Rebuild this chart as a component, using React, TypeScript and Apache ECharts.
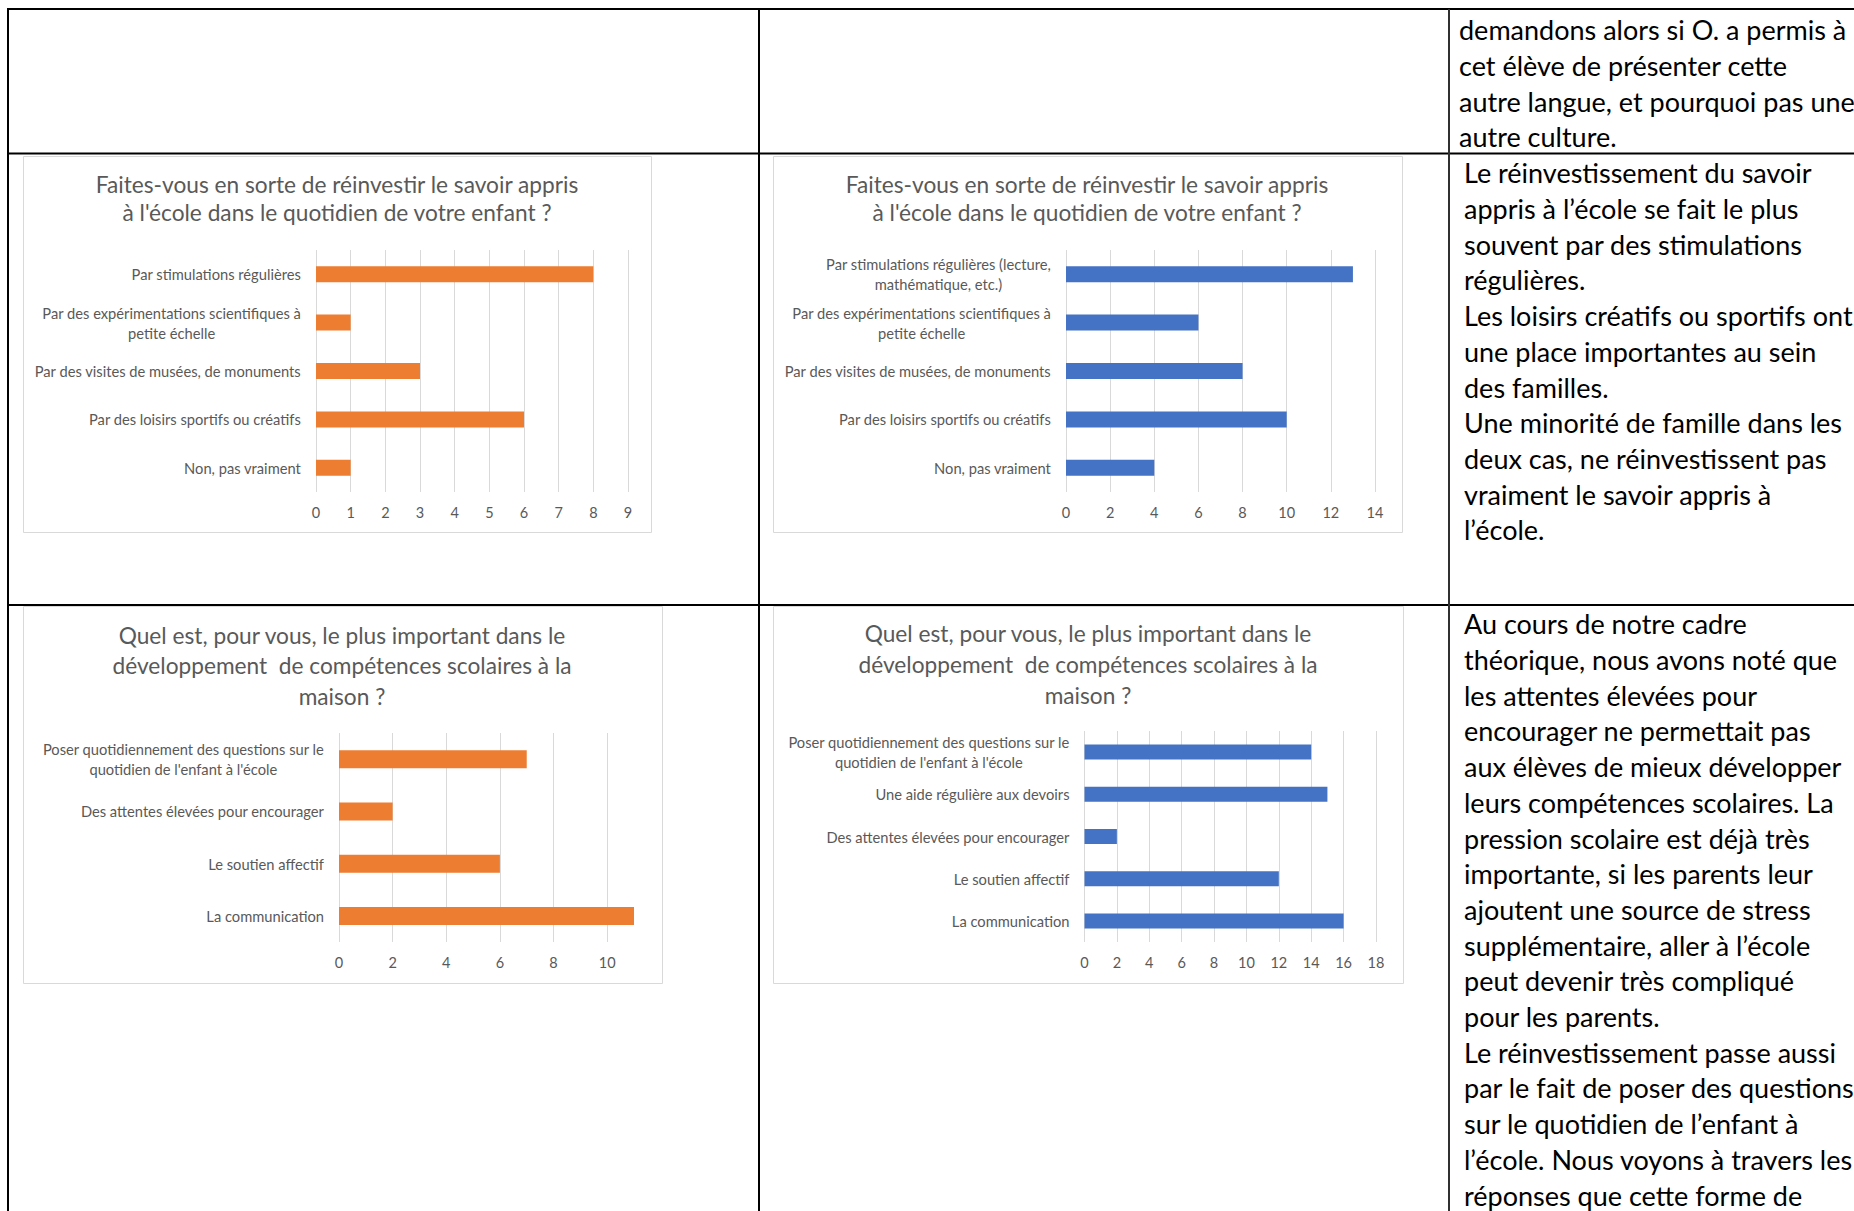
import React, { useEffect, useRef } from 'react';
import * as echarts from 'echarts';

const W = 1854;
const H = 1211;

// ---- data ----
const q1CategoriesA = [
  'Par stimulations régulières',
  'Par des expérimentations scientifiques à\npetite échelle',
  'Par des visites de musées, de monuments',
  'Par des loisirs sportifs ou créatifs',
  'Non, pas vraiment',
];
const q1ValuesA = [8, 1, 3, 6, 1];

const q1CategoriesB = [
  'Par stimulations régulières (lecture,\nmathématique, etc.)',
  'Par des expérimentations scientifiques à\npetite échelle',
  'Par des visites de musées, de monuments',
  'Par des loisirs sportifs ou créatifs',
  'Non, pas vraiment',
];
const q1ValuesB = [13, 6, 8, 10, 4];

const q2CategoriesA = [
  "Poser quotidiennement des questions sur le\nquotidien de l'enfant à l'école",
  'Des attentes élevées pour encourager',
  'Le soutien affectif',
  'La communication',
];
const q2ValuesA = [7, 2, 6, 11];

const q2CategoriesB = [
  "Poser quotidiennement des questions sur le\nquotidien de l'enfant à l'école",
  'Une aide régulière aux devoirs',
  'Des attentes élevées pour encourager',
  'Le soutien affectif',
  'La communication',
];
const q2ValuesB = [14, 15, 2, 12, 16];

const title1 = "Faites-vous en sorte de réinvestir le savoir appris\nà l'école dans le quotidien de votre enfant ?";
const title2 = 'Quel est, pour vous, le plus important dans le\ndéveloppement  de compétences scolaires à la\nmaison ?';

const textRow1 = [
  'demandons alors si O. a permis à',
  'cet élève de présenter cette',
  'autre langue, et pourquoi pas une',
  'autre culture.',
];
const textRow2 = [
  'Le réinvestissement du savoir',
  'appris à l’école se fait le plus',
  'souvent par des stimulations',
  'régulières.',
  'Les loisirs créatifs ou sportifs ont',
  'une place importantes au sein',
  'des familles.',
  'Une minorité de famille dans les',
  'deux cas, ne réinvestissent pas',
  'vraiment le savoir appris à',
  'l’école.',
];
const textRow3 = [
  'Au cours de notre cadre',
  'théorique, nous avons noté que',
  'les attentes élevées pour',
  'encourager ne permettait pas',
  'aux élèves de mieux développer',
  'leurs compétences scolaires. La',
  'pression scolaire est déjà très',
  'importante, si les parents leur',
  'ajoutent une source de stress',
  'supplémentaire, aller à l’école',
  'peut devenir très compliqué',
  'pour les parents.',
  'Le réinvestissement passe aussi',
  'par le fait de poser des questions',
  'sur le quotidien de l’enfant à',
  'l’école. Nous voyons à travers les',
  'réponses que cette forme de',
];

const ORANGE = '#ED7D31';
const BLUE = '#4472C4';
const GRAY_TEXT = '#595959';
const GRID_LINE = '#D9D9D9';
const FONT = 'Lato, "Open Sans", sans-serif';

const panels = [
  {
    cats: q1CategoriesA, vals: q1ValuesA, color: ORANGE, title: title1,
    box: [23, 156, 628, 376], grid: { left: 316, right: W - 628, top: 250, bottom: H - 492 },
    max: 9, interval: 1, barWidth: 16, titleX: 337, titleTop: 170.5, titleLH: 28, hideMax: false,
  },
  {
    cats: q1CategoriesB, vals: q1ValuesB, color: BLUE, title: title1,
    box: [773, 156, 629, 376], grid: { left: 1066, right: W - 1375, top: 250, bottom: H - 492 },
    max: 14, interval: 2, barWidth: 16, titleX: 1087, titleTop: 170.5, titleLH: 28, hideMax: false,
  },
  {
    cats: q2CategoriesA, vals: q2ValuesA, color: ORANGE, title: title2,
    box: [23, 606, 639, 377], grid: { left: 339, right: W - 634, top: 733, bottom: H - 942 },
    max: 11, interval: 2, barWidth: 18, titleX: 342, titleTop: 620, titleLH: 30.5, hideMax: true,
  },
  {
    cats: q2CategoriesB, vals: q2ValuesB, color: BLUE, title: title2,
    box: [773, 606, 630, 377], grid: { left: 1084.5, right: W - 1376, top: 731, bottom: H - 942 },
    max: 18, interval: 2, barWidth: 15, titleX: 1088, titleTop: 618, titleLH: 31, hideMax: false,
  },
];

function buildOption() {
  const grids: any[] = [];
  const xAxes: any[] = [];
  const yAxes: any[] = [];
  const series: any[] = [];
  const titles: any[] = [];
  const graphics: any[] = [];

  panels.forEach((p, i) => {
    grids.push({ ...p.grid, containLabel: false });
    xAxes.push({
      type: 'value', gridIndex: i, min: 0, max: p.max, interval: p.interval,
      axisLine: { show: false }, axisTick: { show: false },
      splitLine: { show: true, showMaxLine: !p.hideMax, lineStyle: { color: GRID_LINE, width: 1 } },
      axisLabel: {
        color: GRAY_TEXT, fontSize: 14.5, fontFamily: FONT, margin: 13,
        showMaxLabel: !p.hideMax,
        formatter: (v: number) => (p.hideMax && v === p.max ? '' : String(v)),
      },
    });
    yAxes.push({
      type: 'category', gridIndex: i, data: p.cats, inverse: true,
      axisLine: { show: false }, axisTick: { show: false }, splitLine: { show: false },
      axisLabel: {
        margin: 15,
        interval: 0,
        formatter: (v: string) => v.split('\n').map((s) => `{c|${s}}`).join('\n'),
        rich: { c: { align: 'center', fontSize: 14.7, lineHeight: 20, color: GRAY_TEXT, fontFamily: FONT } },
      },
    });
    series.push({
      type: 'bar', xAxisIndex: i, yAxisIndex: i, data: p.vals, barWidth: p.barWidth,
      itemStyle: { color: p.color }, silent: true,
    });
    titles.push({
      text: p.title, left: p.titleX, top: p.titleTop, textAlign: 'center', padding: 0,
      textStyle: { color: GRAY_TEXT, fontSize: 22.7, fontWeight: 'normal', fontFamily: FONT, lineHeight: p.titleLH },
    });
    graphics.push({
      type: 'rect', shape: { x: p.box[0] + 0.5, y: p.box[1] + 0.5, width: p.box[2], height: p.box[3] },
      style: { fill: 'none', stroke: '#D9D9D9', lineWidth: 1 }, silent: true, z: -1,
    });
  });

  const lineStyle = { stroke: '#000', lineWidth: 2 };
  const lines = [
    [7, 9, W, 9],
    [8, 8, 8, H],
    [8, 153.5, W, 153.5],
    [8, 605, W, 605],
    [759, 9, 759, H],
  ];
  lines.forEach((l) => {
    graphics.push({ type: 'line', shape: { x1: l[0], y1: l[1], x2: l[2], y2: l[3] }, style: lineStyle, silent: true });
  });
  graphics.push({ type: 'line', shape: { x1: 1449, y1: 9, x2: 1449, y2: H }, style: { stroke: '#303030', lineWidth: 2 }, silent: true });

  const textBlocks: [string[], number, number][] = [
    [textRow1, 1459, 12],
    [textRow2, 1464, 155],
    [textRow3, 1464, 606],
  ];
  textBlocks.forEach(([arr, x, y]) => {
    graphics.push({
      type: 'text', x, y, silent: true,
      style: {
        text: arr.join('\n'), font: `27px ${FONT}`, fill: '#000', lineHeight: 35.7,
        align: 'left', verticalAlign: 'top',
      },
    });
  });

  return {
    animation: false,
    backgroundColor: '#fff',
    title: titles,
    grid: grids,
    xAxis: xAxes,
    yAxis: yAxes,
    series,
    graphic: graphics,
  };
}

export default function App() {
  const ref = useRef<HTMLDivElement>(null);
  useEffect(() => {
    if (!ref.current) return;
    const chart = echarts.init(ref.current, undefined, { renderer: 'svg', width: W, height: H });
    chart.setOption(buildOption() as any);
    return () => chart.dispose();
  }, []);
  return (
    <div
      ref={ref}
      style={{ position: 'absolute', left: 0, top: 0, width: W, height: H, background: '#fff' }}
    />
  );
}
